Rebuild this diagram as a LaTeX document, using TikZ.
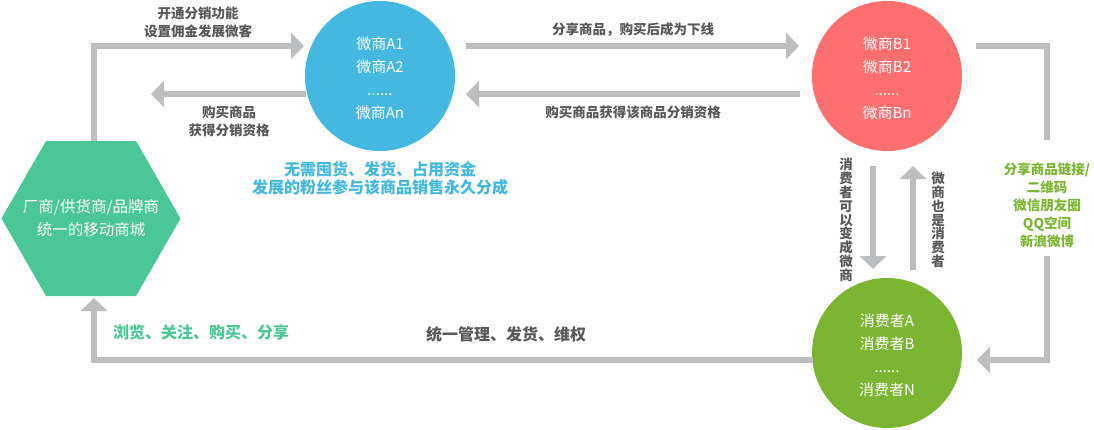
\documentclass[tikz,border=0pt]{standalone}
\usepackage{fontspec}
\setmainfont{Noto Sans CJK SC}
\usetikzlibrary{arrows.meta,shapes.geometric}
\definecolor{lgray}{HTML}{BCBEC0}
\definecolor{tgray}{HTML}{595959}
\definecolor{cblue}{HTML}{45B8E1}
\definecolor{cred}{HTML}{FF6F6F}
\definecolor{cgreen}{HTML}{7CB532}
\definecolor{hgreen}{HTML}{4BC795}
\begin{document}
\begin{tikzpicture}[x=1pt,y=-1pt,
  conn/.style={draw=lgray,line width=6.5pt},
  tipped/.style={-{Triangle[length=13pt,width=26pt]}},
  lbl/.style={text=tgray,font=\bfseries\fontsize{13.5}{18}\selectfont,align=center,inner sep=0},
  vlbl/.style={text=tgray,font=\bfseries\fontsize{13.5}{13.8}\selectfont,align=center,inner sep=0},
  circ/.style={circle,minimum size=150pt,inner sep=0,text=white,font=\fontsize{15}{23}\selectfont,align=center},
]
\useasboundingbox (0,0) rectangle (1094,429);

% hexagon (drawn directly) and its text node
\fill[hgreen] (46,141) -- (136,141) -- (180.5,218.5) -- (136,296) -- (46,296) -- (1.5,218.5) -- cycle;
\node[text=white,font=\fontsize{15.5}{23}\selectfont,align=center,inner sep=0] (hex) at (91,218)
      {厂商/供货商/品牌商\\统一的移动商城};

% circles
\node[circ,fill=cblue] (A) at (380,76) {};
\node[circ,fill=cred]  (B) at (887,76) {};
\node[circ,fill=cgreen] (C) at (887,353) {};
\node[circ,minimum size=0pt] (At) at (380,78) {微商A1\\微商A2\\......\\微商An};
\node[circ,minimum size=0pt] (Bt) at (887,78) {微商B1\\微商B2\\......\\微商Bn};
\node[circ,minimum size=0pt] (Ct) at (887,355) {消费者A\\消费者B\\......\\消费者N};

% coordinates for connector ends
\coordinate (h1) at (94,141);
\coordinate (a1) at (304,46);
\coordinate (a2s) at (306,94);
\coordinate (a2e) at (151,94);
\coordinate (b1s) at (466,46);
\coordinate (b1e) at (799,46);
\coordinate (b2s) at (800,94);
\coordinate (b2e) at (466,94);
\coordinate (r1) at (976,46);
\coordinate (r2) at (1047,140);
\coordinate (r3) at (1047,256);
\coordinate (r4) at (977,360);
\coordinate (d1s) at (873,166);
\coordinate (d1e) at (873,269);
\coordinate (u1s) at (913,270);
\coordinate (u1e) at (913,166);
\coordinate (g1) at (813,360);
\coordinate (h2) at (94,298);

% connectors
\draw[conn,tipped] (h1) |- (a1);
\draw[conn,tipped] (a2s) -- (a2e);
\draw[conn,tipped] (b1s) -- (b1e);
\draw[conn,tipped] (b2s) -- (b2e);
\draw[conn] (r1) -| (r2);
\draw[conn,tipped] (r3) |- (r4);
\draw[conn,tipped] (d1s) -- (d1e);
\draw[conn,tipped] (u1s) -- (u1e);
\draw[conn,tipped] (g1) -| (h2);

% labels
\node[lbl] (l1) at (198,22) {开通分销功能\\设置佣金发展微客};
\node[lbl] (l2) at (229,121) {购买商品\\获得分销资格};
\node[lbl] (l3) at (633,30) {分享商品，购买后成为下线};
\node[lbl] (l4) at (633,112) {购买商品获得该商品分销资格};
\node[lbl,text=cblue,font=\bfseries\fontsize{16}{18}\selectfont] (l5) at (380,178)
      {无需囤货、发货、占用资金\\发展的粉丝参与该商品销售永久分成};
\node[lbl,text=cgreen] (l6) at (1047,205)
      {分享商品链接/\\二维码\\微信朋友圈\\QQ空间\\新浪微博};
\node[vlbl] (l7) at (846,220) {消\\费\\者\\可\\以\\变\\成\\微\\商};
\node[vlbl] (l8) at (938,220) {微\\商\\也\\是\\消\\费\\者};
\node[lbl,text=hgreen,font=\bfseries\fontsize{16}{18}\selectfont] (l9) at (201,332) {浏览、关注、购买、分享};
\node[lbl,font=\bfseries\fontsize{16}{18}\selectfont] (l10) at (506,334) {统一管理、发货、维权};
\end{tikzpicture}
\end{document}
